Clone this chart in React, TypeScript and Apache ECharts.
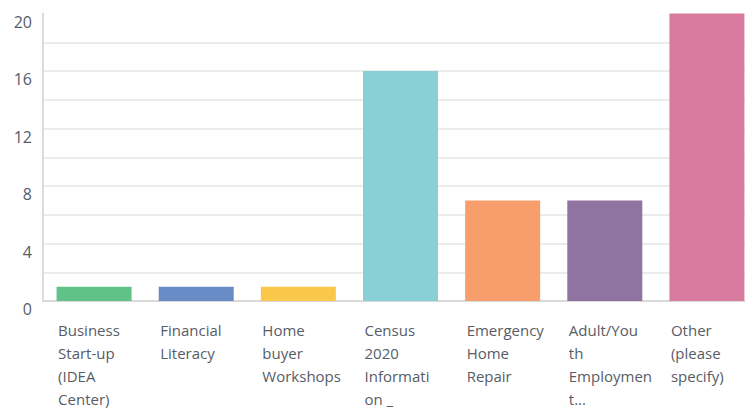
import React, { useEffect, useRef } from "react";
import * as echarts from "echarts";

const categories = [
  "Business Start-up (IDEA Center)",
  "Financial Literacy",
  "Home buyer Workshops",
  "Census 2020 Information _",
  "Emergency Home Repair",
  "Adult/Youth Employment...",
  "Other (please specify)",
];
const values = [1, 1, 1, 16, 7, 7, 20];
const colors = ["#60c287", "#6a8cc6", "#f9c84b", "#88cfd6", "#f89e6c", "#8f73a0", "#d97a9f"];
const yTickLabels = [0, 4, 8, 12, 16, 20];

function wrap(text: string, max: number): string {
  const words = text.split(" ");
  const lines: string[] = [];
  let cur = "";
  for (const w0 of words) {
    let w = w0;
    const candidate = cur ? cur + " " + w : w;
    if (candidate.length <= max) {
      cur = candidate;
      continue;
    }
    if (cur) lines.push(cur);
    cur = "";
    while (w.length > max) {
      lines.push(w.slice(0, max));
      w = w.slice(max);
    }
    cur = w;
  }
  if (cur) lines.push(cur);
  return lines.join("\n");
}

export default function App() {
  const ref = useRef<HTMLDivElement>(null);
  useEffect(() => {
    const chart = echarts.init(ref.current!, undefined, { renderer: "svg" });
    const textColor = "#575c66";
    const font = "'Open Sans', sans-serif";
    const splitColors = Array.from({ length: 11 }, (_, i) => (i === 10 ? "rgba(0,0,0,0)" : "#ececec"));
    chart.setOption({
      animation: false,
      grid: { left: 43, right: 0, top: 13.5, bottom: 109, containLabel: false },
      xAxis: {
        type: "category",
        data: categories,
        axisLine: { show: true, lineStyle: { color: "#d9d9d9", width: 2 } },
        axisTick: { show: false },
        axisLabel: {
          interval: 0,
          color: textColor,
          fontFamily: font,
          fontSize: 15,
          lineHeight: 23,
          align: "left",
          margin: 17,
          padding: [0, 0, 0, -36],
          formatter: (v: string) => wrap(v, 9),
        },
      },
      yAxis: {
        type: "value",
        min: 0,
        max: 20,
        interval: 2,
        axisLine: { show: true, lineStyle: { color: "#dcdcdc", width: 2 } },
        axisTick: { show: false },
        splitLine: { lineStyle: { color: splitColors, width: 2 } },
        axisLabel: {
          color: textColor,
          fontFamily: font,
          fontSize: 16,
          verticalAlign: "top",
          margin: 11,
          formatter: (v: number) => (yTickLabels.includes(v) ? String(v) : ""),
        },
      },
      series: [
        {
          type: "bar",
          barWidth: 75,
          data: values.map((v, i) => ({ value: v, itemStyle: { color: colors[i] } })),
        },
      ],
    });
    return () => chart.dispose();
  }, []);
  return (
    <div style={{ position: "absolute", left: 0, top: 0, width: 745, height: 410, overflow: "hidden" }}>
      <div ref={ref} style={{ width: 758, height: 410 }} />
    </div>
  );
}
